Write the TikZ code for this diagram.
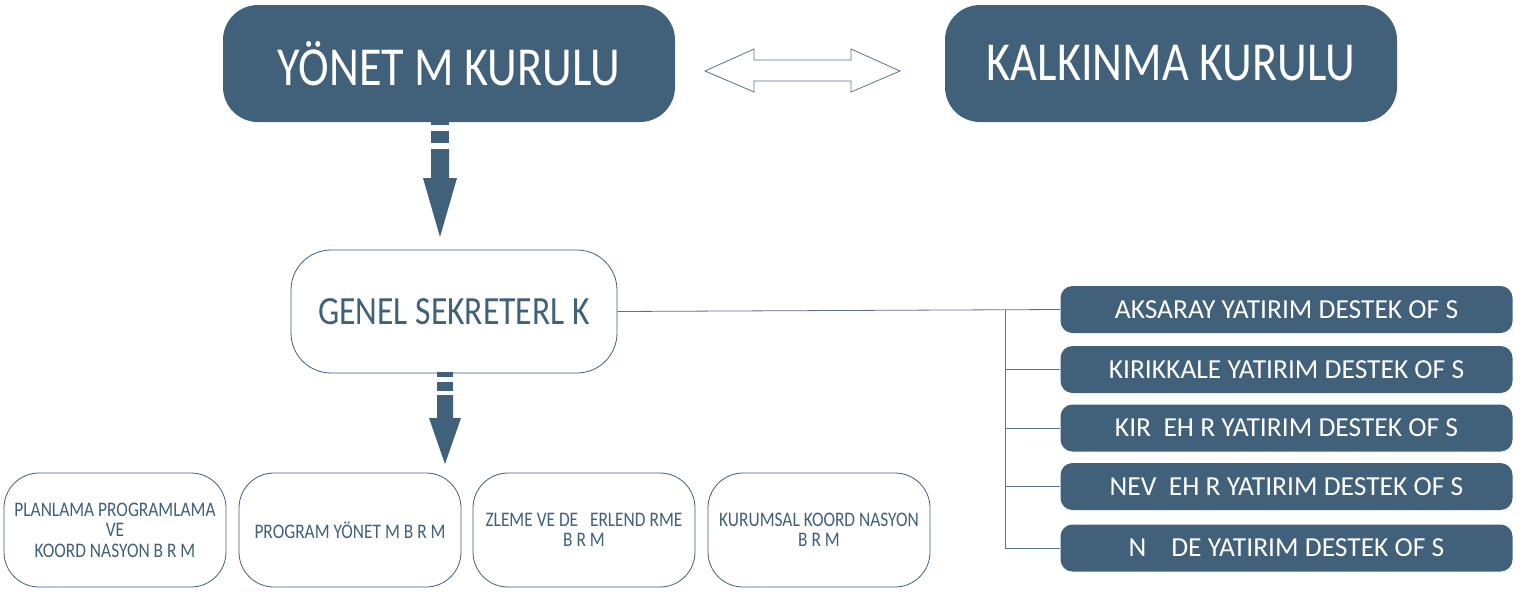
\documentclass[tikz,border=0pt]{standalone}
\usepackage{fontspec}
\setmainfont{Carlito}
\newfontfamily\condfont[FakeStretch=0.84]{Carlito}
\newfontfamily\plainfont{Carlito}
\definecolor{boxblue}{RGB}{65,96,122}
\definecolor{linegray}{RGB}{90,115,140}
\begin{document}
\begin{tikzpicture}[x=1pt,y=-1pt,
  darkbox/.style={draw=none,fill=boxblue,rounded corners=#1,text=white,align=center,inner sep=0pt,font=\condfont},
  darkbox/.default=35pt,
  whitebox/.style={draw=boxblue,line width=0.8pt,fill=white,rounded corners=#1,text=boxblue,align=center,inner sep=0pt,font=\condfont},
  whitebox/.default=35pt,
  conn/.style={draw=linegray,line width=0.8pt},
  blockarrow/.style={fill=boxblue,draw=none}
]
\useasboundingbox (0,0) rectangle (1533,595);
% top boxes
\node[darkbox, minimum width=452pt, minimum height=117pt, font=\condfont\fontsize{55}{62}\selectfont] (yk) at (449,63.5) {YÖNET M KURULU};
\node[darkbox, minimum width=452pt, minimum height=117pt, font=\condfont\fontsize{55}{62}\selectfont] (kk) at (1171,63.5) {KALKINMA KURULU};
% double arrow
\draw[draw=linegray,line width=0.8pt,fill=white]
  (705,71) -- (754,49) -- (754,60) -- (851,60) -- (851,49) -- (900,71)
  -- (851,92) -- (851,81) -- (754,81) -- (754,92) -- cycle;
% general secretariat
\node[whitebox=40pt, minimum width=326pt, minimum height=123pt, font=\condfont\fontsize{40}{46}\selectfont] (gs) at (454,311.5) {GENEL SEKRETERL K};
% block arrow 1
\fill[blockarrow] (431,122) rectangle (449,125);
\fill[blockarrow] (431,131) rectangle (449,143);
\fill[blockarrow] (431,149) -- (449,149) -- (449,178) -- (457,178) -- (440,237) -- (423,178) -- (431,178) -- cycle;
% block arrow 2
\fill[blockarrow] (437,372) rectangle (453,377);
\fill[blockarrow] (437,382) rectangle (453,391);
\fill[blockarrow] (437,395) -- (453,395) -- (453,418) -- (461,418) -- (445,464) -- (429,418) -- (437,418) -- cycle;
% bottom boxes
\tikzset{unit/.style={whitebox=35pt, minimum width=222pt, minimum height=114pt, text depth=0pt, font=\condfont\fontsize{20.7}{20.5}\selectfont}}
\node[unit] (b1) at (115,530) {PLANLAMA PROGRAMLAMA\\VE\\KOORD NASYON B R M};
\node[unit] (b2) at (350,530) {PROGRAM YÖNET M B R M};
\node[unit] (b3) at (584,530) {ZLEME VE DE \ \ ERLEND RME\\B R M};
\node[unit] (b4) at (819,530) {KURUMSAL KOORD NASYON\\B R M};
% right offices
\tikzset{office/.style={darkbox=12pt, minimum width=452pt, minimum height=47pt, font=\plainfont\fontsize{27.5}{30}\selectfont}}
\node[office] (o1) at (1286.5,309.5) {AKSARAY YATIRIM DESTEK OF S};
\node[office] (o2) at (1286.5,369.5) {KIRIKKALE YATIRIM DESTEK OF S};
\node[office] (o3) at (1286.5,428) {KIR \ EH R YATIRIM DESTEK OF S};
\node[office] (o4) at (1286.5,486.5) {NEV \ EH R YATIRIM DESTEK OF S};
\node[office] (o5) at (1286.5,548) {N \ \ \ DE YATIRIM DESTEK OF S};
% connectors
\coordinate (trunk) at (1005,0);
\draw[conn] (gs.east) -- (o1.west);
\draw[conn] (trunk |- o1.west) -- (trunk |- o5.west);
\draw[conn] (trunk |- o2.west) -- (o2.west);
\draw[conn] (trunk |- o3.west) -- (o3.west);
\draw[conn] (trunk |- o4.west) -- (o4.west);
\draw[conn] (trunk |- o5.west) -- (o5.west);
\end{tikzpicture}
\end{document}
